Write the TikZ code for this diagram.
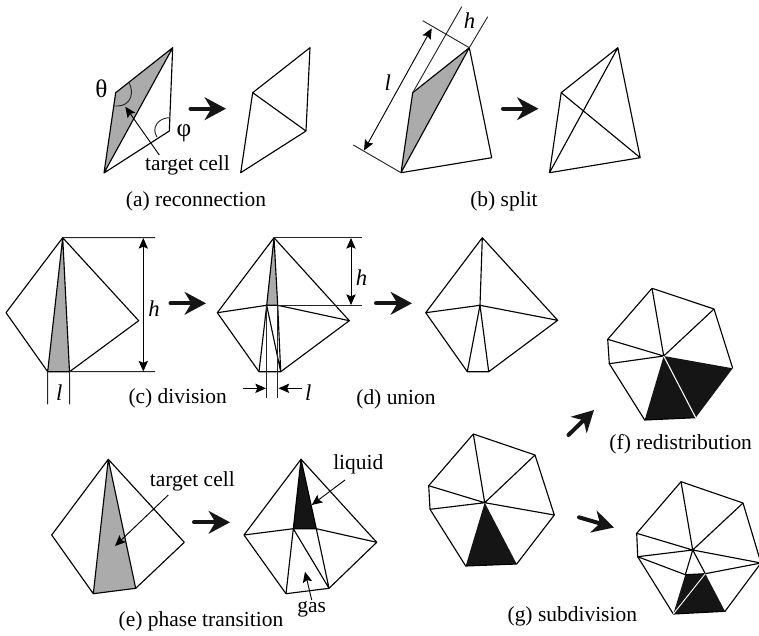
\documentclass[tikz,border=0pt]{standalone}
\usepackage{fontspec}
\setmainfont{Liberation Serif}
\usetikzlibrary{arrows.meta}
\definecolor{cellgray}{HTML}{ABABAB}
\definecolor{cellblack}{HTML}{151515}
\tikzset{
  edge/.style={line width=0.85pt,line join=round,draw=black},
  thin edge/.style={line width=0.7pt,draw=black!85},
  gray cell/.style={fill=cellgray,draw=none},
  black cell/.style={fill=cellblack,draw=none},
  bigarrow/.style={line width=3pt,line cap=round,draw=cellblack,-{Stealth[length=16pt,width=17pt,inset=5pt,fill=cellblack]}},
  small arrow/.style={line width=0.7pt,draw=black,-{Stealth[length=8pt,width=7pt,inset=1.5pt]}},
  dim arrow/.style={line width=0.7pt,draw=black,{Stealth[length=8pt,width=7pt,inset=1.5pt]}-{Stealth[length=8pt,width=7pt,inset=1.5pt]}},
  txt/.style={inner sep=0pt,font=\fontsize{16.1}{18}\selectfont,anchor=center},
  tag/.style={txt},
  greek/.style={inner sep=0pt,font=\fontsize{19}{20}\selectfont,anchor=center},
  sym/.style={txt,font=\fontsize{17}{18}\selectfont\itshape},
}
\begin{document}
\begin{tikzpicture}[x=0.75pt,y=-0.75pt]
\useasboundingbox (0,0) rectangle (759,635);
% ---------- (a)
\coordinate (ab) at (104,173); \coordinate (at) at (172.7,47.7);
\coordinate (al) at (115.7,92.7); \coordinate (ar) at (169.3,131);
\fill[gray cell] (ab)--(al)--(at)--cycle;
\draw[edge] (ab)--(al)--(at)--(ar)--cycle (ab)--(at);
\coordinate (aa1) at (129.3,83.3); \coordinate (aa2) at (114.3,106);
\draw[thin edge] (aa1) .. controls (133,90) and (134,107) .. (aa2);
\coordinate (af1) at (169.3,117.7); \coordinate (af2) at (157,137);
\draw[thin edge] (af1) .. controls (158,118) and (151,128) .. (af2);
\node[greek] (theta) at (101.5,89) {θ};
\node[greek] (phi) at (184,133) {φ};
\node[txt] (tca) at (187.5,165.5) {target cell};
\coordinate (tcaS) at (159.3,155); \coordinate (tcaE) at (125.3,106.7);
\draw[small arrow] (tcaS)--(tcaE);
\coordinate (a1) at (190.5,108.7); \coordinate (a2) at (226,108.7);
\draw[bigarrow] (a1)--(a2);
\coordinate (ab2) at (240.7,172.7); \coordinate (at2) at (310,47.7);
\coordinate (al2) at (252.7,92.7); \coordinate (ar2) at (306,131);
\draw[edge] (ab2)--(al2)--(at2)--(ar2)--cycle (al2)--(ar2);
\node[tag] (capa) at (196,201.5) {(a) reconnection};
% ---------- (b)
\coordinate (bb) at (401,172.7); \coordinate (bt) at (469.3,47.7);
\coordinate (bl) at (412.7,92.7); \coordinate (br) at (491.7,157.7);
\fill[gray cell] (bb)--(bl)--(bt)--cycle;
\draw[edge] (bb)--(bl)--(bt)--(br)--cycle (bb)--(bt);
\coordinate (bh1) at (461.7,6.7); \coordinate (bh2) at (487.7,16.7);
\coordinate (bl1) at (422.7,20.7); \coordinate (bl2) at (353.3,145);
\draw[thin edge] (bl)--(bh1) (bt)--(bh2) (bl1)--(bt) (bl2)--(bb);
\coordinate (bd1) at (431.7,28.3); \coordinate (bd2) at (364,150.5);
\draw[dim arrow] (bd1)--(bd2);
\node[sym] (bhl) at (469.5,20.5) {h};
\node[sym] (bll) at (387.7,82.7) {l};
\coordinate (b1) at (503,108.7); \coordinate (b2) at (538.5,108.7);
\draw[bigarrow] (b1)--(b2);
\coordinate (cb) at (549.5,172.7); \coordinate (ct) at (617.8,47.7);
\coordinate (cl) at (561.2,92.7); \coordinate (cr) at (640.2,157.7);
\draw[edge] (cb)--(cl)--(ct)--(cr)--cycle (cb)--(ct) (cl)--(cr);
\node[tag] (capb) at (504,201.5) {(b) split};
% ---------- (c)
\coordinate (dt) at (62.7,237.7); \coordinate (dl) at (6,312.7);
\coordinate (dr) at (138.7,320.7); \coordinate (dbl) at (47.7,371.7);
\coordinate (dbr) at (69.5,371.7);
\fill[gray cell] (dt)--(dbl)--(dbr)--cycle;
\draw[edge] (dt)--(dl)--(dbl)--(dbr)--(dr)--cycle (dt)--(dbl) (dt)--(dbr);
\coordinate (de1) at (155,237.7); \coordinate (de2) at (155,371.7);
\coordinate (dl1) at (47.7,404.3); \coordinate (dl2) at (69.7,404.3);
\draw[thin edge] (dt)--(de1) (dbr)--(de2) (dbl)--(dl1) (dbr)--(dl2);
\coordinate (dh1) at (143.3,238); \coordinate (dh2) at (143.3,371.5);
\draw[dim arrow] (dh1)--(dh2);
\node[sym] (dhl) at (154,308.5) {h};
\node[sym] (dll) at (59.3,393) {l};
\coordinate (c1) at (170.5,303.3); \coordinate (c2) at (206,303.3);
\draw[bigarrow] (c1)--(c2);
\node[tag] (capc) at (177.7,398.5) {(c) division};
% ---------- (c)/(d) middle
\coordinate (et) at (274,237.7); \coordinate (el) at (217.3,312.7);
\coordinate (er) at (349.3,320.7); \coordinate (ebl) at (259,371.7);
\coordinate (ebr) at (280.7,371.7); \coordinate (eml) at (266.7,305.3);
\coordinate (emr) at (277.7,305.3);
\fill[gray cell] (et)--(eml)--(emr)--cycle;
\draw[edge] (et)--(el)--(ebl)--(ebr)--(er)--cycle;
\draw[edge] (et)--(eml)--(emr)--cycle (el)--(eml) (emr)--(er)
  (eml)--(ebl) (eml)--(ebr) (emr)--(ebr);
\coordinate (ee1) at (361.7,237.7); \coordinate (ee2) at (361.7,305.3);
\coordinate (ev1) at (266.7,397.7); \coordinate (ev2) at (277.7,397.7);
\draw[thin edge] (et)--(ee1) (emr)--(ee2) (eml)--(ev1) (emr)--(ev2);
\coordinate (eh1) at (351,238); \coordinate (eh2) at (351,305);
\draw[dim arrow] (eh1)--(eh2);
\node[sym] (ehl) at (361.5,277.7) {h};
\coordinate (eas) at (242.7,388.3); \coordinate (eae) at (266,388.3);
\coordinate (ebs) at (302.3,388.3); \coordinate (ebe) at (278.5,388.3);
\draw[small arrow] (eas)--(eae);
\draw[small arrow] (ebs)--(ebe);
\node[sym] (ell) at (308.3,393) {l};
\coordinate (d1) at (376,303.3); \coordinate (d2) at (412,303.3);
\draw[bigarrow] (d1)--(d2);
% ---------- (d)
\coordinate (ft) at (482.3,237.7); \coordinate (fl) at (425.7,312.7);
\coordinate (fr) at (557.7,320.3); \coordinate (fbl) at (467.3,371.7);
\coordinate (fbr) at (488.7,371.7); \coordinate (fm) at (480,305.3);
\draw[edge] (ft)--(fl)--(fbl)--(fbr)--(fr)--cycle
  (fm)--(ft) (fm)--(fl) (fm)--(fr) (fm)--(fbl) (fm)--(fbr);
\node[tag] (capd) at (396,399) {(d) union};
% ---------- (e)
\coordinate (gt) at (108.3,459.3); \coordinate (gl) at (51.7,535);
\coordinate (gr) at (184.3,542.3); \coordinate (gbl) at (93.3,593.7);
\coordinate (gbr) at (135.7,588.3);
\fill[gray cell] (gt)--(gbl)--(gbr)--cycle;
\draw[edge] (gt)--(gl)--(gbl)--(gbr)--(gr)--cycle (gt)--(gbl) (gt)--(gbr);
\node[txt] (tce) at (192.3,481.5) {target cell};
\coordinate (tes) at (168.3,495); \coordinate (tee) at (115,546);
\draw[small arrow] (tes)--(tee);
\coordinate (e1) at (194,522.3); \coordinate (e2) at (230,522.3);
\draw[bigarrow] (e1)--(e2);
\coordinate (ht) at (301,459.3); \coordinate (hl) at (244,535);
\coordinate (hr) at (376.7,542.3); \coordinate (hbl) at (286,593.7);
\coordinate (hbr) at (329,588.3); \coordinate (hml) at (293.3,528.7);
\coordinate (hmr) at (316.3,528.7);
\fill[black cell] (ht)--(hml)--(hmr)--cycle;
\draw[edge] (ht)--(hl)--(hbl)--(hbr)--(hr)--cycle;
\draw[edge] (ht)--(hml)--(hmr)--cycle (hl)--(hml) (hmr)--(hr)
  (hml)--(hbl) (hml)--(hbr) (hmr)--(hbr);
\node[txt] (liq) at (358.3,464.5) {liquid};
\coordinate (lis) at (345,480); \coordinate (lie) at (311.7,505);
\draw[small arrow] (lis)--(lie);
\node[txt] (gas) at (311.7,609) {gas};
\coordinate (gas1) at (311.7,600); \coordinate (gas2) at (305,571.7);
\draw[small arrow] (gas1)--(gas2);
\node[tag] (cape) at (201,621.5) {(e) phase transition};
% ---------- (f)
\coordinate (it) at (652,288.3); \coordinate (itr) at (714,309);
\coordinate (ir) at (732.7,368.3); \coordinate (ibr) at (695.7,417.7);
\coordinate (ibl) at (644.7,420); \coordinate (il2) at (609.3,363.7);
\coordinate (il1) at (607.7,339.3); \coordinate (ic) at (663.7,356);
\fill[black cell] (ic)--(ir)--(ibr)--(ibl)--cycle;
\draw[edge] (it)--(itr)--(ir) (ibr)--(ibl) (ibl)--(il2)--(il1)--(it);
\draw[edge] (ic)--(it) (ic)--(itr) (ic)--(il1) (ic)--(il2);
\draw[line width=0.8pt,white] (ic)--(ibr);
\coordinate (f1) at (568.5,435); \coordinate (f2) at (594,410);
\draw[bigarrow] (f1)--(f2);
\node[tag] (capf) at (680.7,444.3) {(f) redistribution};
% ---------- (g) start
\coordinate (jt) at (473.3,434); \coordinate (jtr) at (535,455);
\coordinate (jr) at (554.3,515); \coordinate (jbr) at (516.7,564);
\coordinate (jbl) at (465.7,566); \coordinate (jl2) at (430,509.3);
\coordinate (jl1) at (428.7,485.7); \coordinate (jc) at (484.7,502.7);
\fill[black cell] (jc)--(jbr)--(jbl)--cycle;
\draw[edge] (jt)--(jtr)--(jr)--(jbr)--(jbl)--(jl2)--(jl1)--cycle;
\draw[edge] (jc)--(jt) (jc)--(jtr) (jc)--(jr) (jc)--(jl1) (jc)--(jl2);
\coordinate (g1) at (579,517.3); \coordinate (g2) at (614,527.5);
\draw[bigarrow] (g1)--(g2);
% ---------- (g) result
\coordinate (kt) at (681,481.7); \coordinate (ktr) at (743,503);
\coordinate (kr) at (761,563); \coordinate (kbr) at (725,611.3);
\coordinate (kbl) at (673.3,614); \coordinate (kl2) at (637.7,556.7);
\coordinate (kl1) at (636.7,533.3); \coordinate (kc) at (692.7,550);
\coordinate (ka) at (685.3,574.7); \coordinate (kb) at (705.3,573.7);
\fill[black cell] (ka)--(kb)--(kbr)--(kbl)--cycle;
\draw[edge] (kt)--(ktr)--(kr)--(kbr)--(kbl)--(kl2)--(kl1)--cycle;
\draw[edge] (kc)--(kt) (kc)--(ktr) (kc)--(kr) (kc)--(kl1) (kc)--(kl2)
  (kc)--(ka) (kc)--(kb) (ka)--(kb) (ka)--(kl2) (kb)--(kr);
\draw[line width=0.7pt,white] (kbl)--(kb);
\node[tag] (capg) at (572.3,616.7) {(g) subdivision};
\end{tikzpicture}
\end{document}
